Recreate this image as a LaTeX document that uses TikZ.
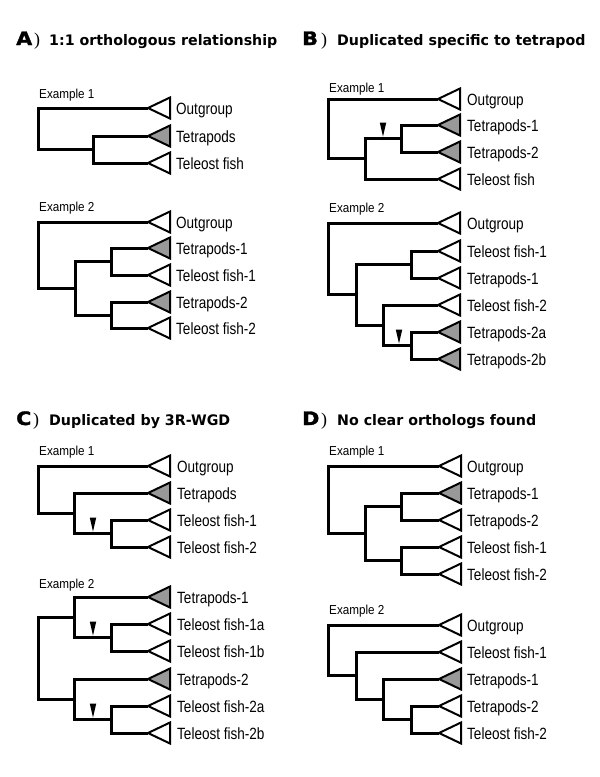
\documentclass[tikz,border=0pt]{standalone}
\usepackage{fontspec}
\usetikzlibrary{shapes.geometric}
\newfontfamily\labfam{Liberation Sans}[FakeStretch=0.83]
\newfontfamily\exfam{Liberation Sans}[FakeStretch=0.9]
\newfontfamily\ttlfam{DejaVu Sans}[FakeStretch=0.98]
\newfontfamily\hdfam{DejaVu Sans}[FakeStretch=1.12, BoldFeatures={FakeBold=1.5}]
\newfontfamily\parfam{Liberation Serif}
\definecolor{tgray}{gray}{0.6}
\tikzset{
  leaf/.style={isosceles triangle, isosceles triangle stretches, shape border rotate=180,
    minimum width=21pt, minimum height=22pt, inner sep=0pt, outer sep=0pt,
    draw, line width=2pt, fill=white, anchor=apex},
  gleaf/.style={leaf, fill=tgray},
  lab/.style={anchor=base west, inner sep=0pt, font=\labfam\fontsize{16.3pt}{18pt}\selectfont},
  exlab/.style={anchor=base west, inner sep=0pt, font=\exfam\fontsize{13pt}{15pt}\selectfont},
  hdlab/.style={anchor=base west, inner sep=0pt, font=\hdfam\bfseries\fontsize{18.5pt}{20pt}\selectfont},
  parlab/.style={anchor=base west, inner sep=0pt, font=\parfam\fontsize{18pt}{20pt}\selectfont},
  ttllab/.style={anchor=base west, inner sep=0pt, font=\ttlfam\bfseries\fontsize{14.5pt}{16pt}\selectfont},
  branch/.style={line width=3pt},
  dup/.style={isosceles triangle, isosceles triangle stretches, shape border rotate=270,
    minimum width=6.5pt, minimum height=14pt, inner sep=0pt, outer sep=0pt, fill=black, anchor=apex}
}
\begin{document}
\begin{tikzpicture}[x=1pt,y=-1pt]
\useasboundingbox[fill=white] (0,0) rectangle (600,777);

% ---------------- titles
\node[hdlab] (ha) at (16,45) {A};
\node[parlab] (pa) at (34,45.5) {)};
\node[ttllab] (tta) at (49,45) {1:1 orthologous relationship};
\node[hdlab] (hb) at (302,45) {B};
\node[parlab] (pb) at (321,45.5) {)};
\node[ttllab] (ttb) at (337,45) {Duplicated specific to tetrapod};
\node[hdlab] (hc) at (16,425) {C};
\node[parlab] (pc) at (33,425.5) {)};
\node[ttllab] (ttc) at (49,425) {Duplicated by 3R-WGD};
\node[hdlab] (hd) at (302,425) {D};
\node[parlab] (pd) at (321,425.5) {)};
\node[ttllab] (ttd) at (337,425) {No clear orthologs found};

% ================= Panel A, example 1
\node[exlab] (a1x) at (39,98.7) {Example 1};
\node[leaf]  (a1o) at (148,108) {};
\node[gleaf] (a1t) at (148,136) {};
\node[leaf]  (a1f) at (148,163) {};
\node[lab] (a1ol) at (176,114) {Outgroup};
\node[lab] (a1tl) at (176,142) {Tetrapods};
\node[lab] (a1fl) at (176,169) {Teleost fish};
\coordinate (a1c) at (93,149.5);
\coordinate (a1r) at (38,128.75);
\draw[branch] (a1t.apex) -| (a1c) |- (a1f.apex);
\draw[branch] (a1o.apex) -| (a1r) |- (a1c);

% ================= Panel A, example 2
\node[exlab] (a2x) at (39,211.5) {Example 2};
\node[leaf]  (a2o)  at (148,222) {};
\node[gleaf] (a2t1) at (148,248) {};
\node[leaf]  (a2f1) at (148,275) {};
\node[gleaf] (a2t2) at (148,302) {};
\node[leaf]  (a2f2) at (148,328) {};
\node[lab] (a2ol)  at (176,228) {Outgroup};
\node[lab] (a2t1l) at (176,254) {Tetrapods-1};
\node[lab] (a2f1l) at (176,281) {Teleost fish-1};
\node[lab] (a2t2l) at (176,308) {Tetrapods-2};
\node[lab] (a2f2l) at (176,334) {Teleost fish-2};
\coordinate (a2c1) at (111,261.5);
\coordinate (a2c2) at (111,315);
\coordinate (a2p)  at (75,288.25);
\coordinate (a2r)  at (38,255);
\draw[branch] (a2t1.apex) -| (a2c1) |- (a2f1.apex);
\draw[branch] (a2t2.apex) -| (a2c2) |- (a2f2.apex);
\draw[branch] (a2c1) -| (a2p) |- (a2c2);
\draw[branch] (a2o.apex) -| (a2r) |- (a2p);

% ================= Panel B, example 1
\node[exlab] (b1x) at (329,92.5) {Example 1};
\node[leaf]  (b1o)  at (438,99) {};
\node[gleaf] (b1t1) at (438,125) {};
\node[gleaf] (b1t2) at (438,152) {};
\node[leaf]  (b1f)  at (438,179) {};
\node[lab] (b1ol)  at (467,105) {Outgroup};
\node[lab] (b1t1l) at (467,131) {Tetrapods-1};
\node[lab] (b1t2l) at (467,158) {Tetrapods-2};
\node[lab] (b1fl)  at (467,185) {Teleost fish};
\coordinate (b1c) at (401,138.5);
\coordinate (b1p) at (365,158.75);
\coordinate (b1r) at (328,129);
\draw[branch] (b1t1.apex) -| (b1c) |- (b1t2.apex);
\draw[branch] (b1c) -| (b1p) |- (b1f.apex);
\draw[branch] (b1o.apex) -| (b1r) |- (b1p);
\node[dup] (b1d) at (383,136.5) {};

% ================= Panel B, example 2
\node[exlab] (b2x) at (329,212.5) {Example 2};
\node[leaf]  (b2o)   at (438,223) {};
\node[leaf]  (b2f1)  at (438,251) {};
\node[leaf]  (b2t1)  at (438,278) {};
\node[leaf]  (b2f2)  at (438,305) {};
\node[gleaf] (b2t2a) at (438,332) {};
\node[gleaf] (b2t2b) at (438,359) {};
\node[lab] (b2ol)   at (467,229) {Outgroup};
\node[lab] (b2f1l)  at (467,257) {Teleost fish-1};
\node[lab] (b2t1l)  at (467,284) {Tetrapods-1};
\node[lab] (b2f2l)  at (467,311) {Teleost fish-2};
\node[lab] (b2t2al) at (467,338) {Tetrapods-2a};
\node[lab] (b2t2bl) at (467,365) {Tetrapods-2b};
\coordinate (b2c1) at (411,264.5);
\coordinate (b2c2) at (411,345.5);
\coordinate (b2p2) at (383,325.25);
\coordinate (b2p)  at (356,294.9);
\coordinate (b2r)  at (328,259);
\draw[branch] (b2f1.apex) -| (b2c1) |- (b2t1.apex);
\draw[branch] (b2t2a.apex) -| (b2c2) |- (b2t2b.apex);
\draw[branch] (b2f2.apex) -| (b2p2) |- (b2c2);
\draw[branch] (b2c1) -| (b2p) |- (b2p2);
\draw[branch] (b2o.apex) -| (b2r) |- (b2p);
\node[dup] (b2d) at (399,343.5) {};

% ================= Panel C, example 1
\node[exlab] (c1x) at (39,455.5) {Example 1};
\node[leaf]  (c1o)  at (148,466) {};
\node[gleaf] (c1t)  at (148,493) {};
\node[leaf]  (c1f1) at (148,520) {};
\node[leaf]  (c1f2) at (148,547) {};
\node[lab] (c1ol)  at (177,472) {Outgroup};
\node[lab] (c1tl)  at (177,499) {Tetrapods};
\node[lab] (c1f1l) at (177,526) {Teleost fish-1};
\node[lab] (c1f2l) at (177,553) {Teleost fish-2};
\coordinate (c1c) at (111,533.5);
\coordinate (c1p) at (74,513.25);
\coordinate (c1r) at (38,490);
\draw[branch] (c1f1.apex) -| (c1c) |- (c1f2.apex);
\draw[branch] (c1t.apex) -| (c1p) |- (c1c);
\draw[branch] (c1o.apex) -| (c1r) |- (c1p);
\node[dup] (c1d) at (93,531.5) {};

% ================= Panel C, example 2
\node[exlab] (c2x) at (39,588.5) {Example 2};
\node[gleaf] (c2t1)  at (148,597) {};
\node[leaf]  (c2f1a) at (148,624) {};
\node[leaf]  (c2f1b) at (148,651) {};
\node[gleaf] (c2t2)  at (148,679) {};
\node[leaf]  (c2f2a) at (148,706) {};
\node[leaf]  (c2f2b) at (148,733) {};
\node[lab] (c2t1l)  at (177,603) {Tetrapods-1};
\node[lab] (c2f1al) at (177,630) {Teleost fish-1a};
\node[lab] (c2f1bl) at (177,657) {Teleost fish-1b};
\node[lab] (c2t2l)  at (177,685) {Tetrapods-2};
\node[lab] (c2f2al) at (177,712) {Teleost fish-2a};
\node[lab] (c2f2bl) at (177,739) {Teleost fish-2b};
\coordinate (c2c1) at (111,637.5);
\coordinate (c2p1) at (74,617.25);
\coordinate (c2c2) at (111,719.5);
\coordinate (c2p2) at (74,699.25);
\coordinate (c2r)  at (38,658);
\draw[branch] (c2f1a.apex) -| (c2c1) |- (c2f1b.apex);
\draw[branch] (c2t1.apex) -| (c2p1) |- (c2c1);
\draw[branch] (c2f2a.apex) -| (c2c2) |- (c2f2b.apex);
\draw[branch] (c2t2.apex) -| (c2p2) |- (c2c2);
\draw[branch] (c2p1) -| (c2r) |- (c2p2);
\node[dup] (c2d1) at (93,635.5) {};
\node[dup] (c2d2) at (93,717.5) {};

% ================= Panel D, example 1
\node[exlab] (d1x) at (329,455.5) {Example 1};
\node[leaf]  (d1o)  at (439,466) {};
\node[gleaf] (d1t1) at (439,493) {};
\node[leaf]  (d1t2) at (439,520) {};
\node[leaf]  (d1f1) at (439,547) {};
\node[leaf]  (d1f2) at (439,574) {};
\node[lab] (d1ol)  at (467,472) {Outgroup};
\node[lab] (d1t1l) at (467,499) {Tetrapods-1};
\node[lab] (d1t2l) at (467,526) {Tetrapods-2};
\node[lab] (d1f1l) at (467,553) {Teleost fish-1};
\node[lab] (d1f2l) at (467,580) {Teleost fish-2};
\coordinate (d1c1) at (401,506.5);
\coordinate (d1c2) at (401,560.5);
\coordinate (d1p)  at (365,533.5);
\coordinate (d1r)  at (328,500);
\draw[branch] (d1t1.apex) -| (d1c1) |- (d1t2.apex);
\draw[branch] (d1f1.apex) -| (d1c2) |- (d1f2.apex);
\draw[branch] (d1c1) -| (d1p) |- (d1c2);
\draw[branch] (d1o.apex) -| (d1r) |- (d1p);

% ================= Panel D, example 2
\node[exlab] (d2x) at (329,614.5) {Example 2};
\node[leaf]  (d2o)  at (439,625) {};
\node[leaf]  (d2f1) at (439,652) {};
\node[gleaf] (d2t1) at (439,679) {};
\node[leaf]  (d2t2) at (439,706) {};
\node[leaf]  (d2f2) at (439,733) {};
\node[lab] (d2ol)  at (467,631) {Outgroup};
\node[lab] (d2f1l) at (467,658) {Teleost fish-1};
\node[lab] (d2t1l) at (467,685) {Tetrapods-1};
\node[lab] (d2t2l) at (467,712) {Tetrapods-2};
\node[lab] (d2f2l) at (467,739) {Teleost fish-2};
\coordinate (d2c)  at (411,719.5);
\coordinate (d2p3) at (383,699.25);
\coordinate (d2p2) at (356,675.6);
\coordinate (d2r)  at (328,650);
\draw[branch] (d2t2.apex) -| (d2c) |- (d2f2.apex);
\draw[branch] (d2t1.apex) -| (d2p3) |- (d2c);
\draw[branch] (d2f1.apex) -| (d2p2) |- (d2p3);
\draw[branch] (d2o.apex) -| (d2r) |- (d2p2);
\end{tikzpicture}
\end{document}
